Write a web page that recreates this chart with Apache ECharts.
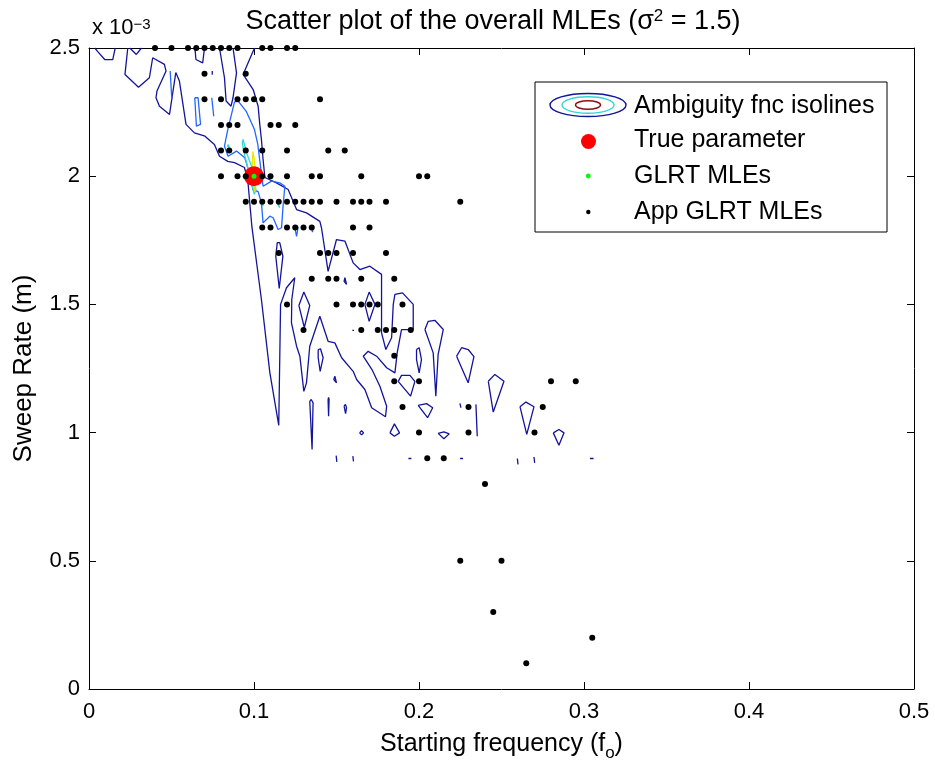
<!DOCTYPE html>
<html><head><meta charset="utf-8">
<script src="https://cdn.jsdelivr.net/npm/echarts@6/dist/echarts.min.js"></script>
<style>html,body{margin:0;padding:0;background:#fff}#c{width:935px;height:767px}</style>
</head><body><div id="c"></div>
<script>
// ---------- data (f = starting frequency, m = sweep rate in units of 1e-3) ----------
const xTickValues = [0, 0.1, 0.2, 0.3, 0.4, 0.5];
const yTickValues = [0, 0.5, 1, 1.5, 2, 2.5];

const trueParameter = [[0.1, 2.0]];
const glrtMLEs = [[0.1, 2.0]];

// App GLRT MLEs, one row per sweep-rate value: [m, [f values]]
const appGlrtRows = [
  [2.5, [0.04,0.05,0.06,0.065,0.07,0.075,0.08,0.085,0.09,0.105,0.11,0.12,0.125]],
  [2.4, [0.07,0.095]],
  [2.3, [0.07,0.08,0.09,0.095,0.1,0.105,0.14]],
  [2.2, [0.08,0.085,0.09,0.11,0.115,0.125]],
  [2.1, [0.08,0.085,0.095,0.105,0.12,0.145,0.155]],
  [2.0, [0.08,0.09,0.095,0.105,0.11,0.12,0.135,0.14,0.165,0.2,0.205]],
  [1.9, [0.095,0.1,0.105,0.11,0.115,0.12,0.125,0.13,0.135,0.14,0.15,0.16,0.165,0.17,0.18,0.225]],
  [1.8, [0.105,0.11,0.12,0.125,0.13,0.135,0.16,0.17]],
  [1.7, [0.115,0.14,0.145,0.15,0.16,0.18]],
  [1.6, [0.135,0.145,0.15,0.165,0.185]],
  [1.5, [0.12,0.15,0.16,0.165,0.17,0.175,0.19]],
  [1.4, [0.13,0.165,0.175,0.18,0.185,0.195]],
  [1.3, [0.185]],
  [1.2, [0.185,0.2,0.28,0.295]],
  [1.1, [0.19,0.23,0.275]],
  [1.0, [0.2,0.23,0.27]],
  [0.9, [0.205,0.215]],
  [0.8, [0.24]],
  [0.5, [0.225,0.25]],
  [0.3, [0.245]],
  [0.2, [0.305]],
  [0.1, [0.265]]
];

// Ambiguity function isolines, lowest level
const darkIsolines = [
  [[0.0035,2.5],[0.0053,2.486],[0.0095,2.455],[0.0144,2.455],[0.0159,2.5]],
  [[0.0247,2.5],[0.0287,2.475],[0.0318,2.5]],
  [[0.0642,2.5],[0.0648,2.455],[0.0689,2.442],[0.070,2.5]],
  [[0.0791,2.5],[0.0821,2.384],[0.0831,2.293],[0.0861,2.273],[0.0873,2.307],[0.0894,2.403],[0.0873,2.5]],
  [[0.0747,2.41],[0.0756,2.403],[0.0747,2.396],[0.0741,2.403],[0.0747,2.41]],
  [[0.0235,2.5],[0.0218,2.397],[0.030,2.347],[0.0366,2.384],[0.0386,2.462],[0.0457,2.436],[0.0467,2.41],[0.0412,2.332],[0.0406,2.306],[0.0427,2.273],[0.0488,2.241],[0.0526,2.404],[0.0548,2.371],[0.0588,2.202],[0.0639,2.169],[0.0703,2.156],[0.076,2.124],[0.0791,2.078],[0.0841,2.058],[0.0882,2.053],[0.0942,2.034],[0.0962,1.987],[0.0987,1.804],[0.1045,1.519],[0.1096,1.234],[0.115,1.028],[0.1161,1.5],[0.1197,1.565],[0.1247,1.604],[0.1229,1.519],[0.1227,1.428],[0.1258,1.337],[0.1278,1.298],[0.1302,1.161],[0.1318,1.194],[0.1338,1.337],[0.1399,1.454],[0.1449,1.356],[0.149,1.35],[0.1531,1.292],[0.1601,1.239],[0.1622,1.207],[0.1672,1.168],[0.1713,1.097],[0.1797,1.062],[0.1804,1.103],[0.1763,1.181],[0.1715,1.246],[0.1662,1.298],[0.1692,1.317],[0.1743,1.298],[0.1804,1.253],[0.1854,1.233],[0.1868,1.312],[0.1894,1.402],[0.1965,1.402],[0.1965,1.5],[0.19,1.545],[0.1854,1.539],[0.1844,1.5],[0.1834,1.37],[0.1799,1.324],[0.1773,1.389],[0.1773,1.617],[0.1702,1.649],[0.1642,1.636],[0.1601,1.662],[0.1551,1.747],[0.15,1.753],[0.1449,1.629],[0.1409,1.799],[0.1399,1.824],[0.1318,1.857],[0.1258,1.87],[0.1207,1.948],[0.1136,1.974],[0.1066,1.995],[0.1055,2.065],[0.1045,2.143],[0.1035,2.202],[0.1025,2.273],[0.0995,2.338],[0.0934,2.397],[0.0995,2.488],[0.1005,2.5]],
  [[0.1272,1.496],[0.1302,1.548],[0.1338,1.496],[0.1305,1.41],[0.1272,1.496]],
  [[0.1132,1.688],[0.1141,1.741],[0.1156,1.741],[0.1175,1.688],[0.1153,1.562],[0.1132,1.688]],
  [[0.1672,1.5],[0.1698,1.548],[0.1733,1.5],[0.1698,1.434],[0.1672,1.5]],
  [[0.1389,1.324],[0.1403,1.327],[0.1419,1.292],[0.1401,1.239],[0.1389,1.292],[0.1389,1.324]],
  [[0.149,1.22],[0.15,1.194],[0.149,1.188],[0.1484,1.207],[0.149,1.22]],
  [[0.1338,1.122],[0.1352,0.934],[0.1358,1.116],[0.1347,1.129],[0.1338,1.122]],
  [[0.1449,1.129],[0.1452,1.064],[0.1455,1.129],[0.1452,1.137],[0.1449,1.129]],
  [[0.1546,1.103],[0.1555,1.074],[0.1561,1.097],[0.1554,1.11],[0.1546,1.103]],
  [[0.164,0.999],[0.1652,1.007],[0.1664,0.999],[0.1652,0.991],[0.164,0.999]],
  [[0.1498,0.91],[0.1502,0.91],[0.1502,0.886],[0.1498,0.886],[0.1498,0.91]],
  [[0.1599,0.908],[0.1603,0.908],[0.1603,0.888],[0.1599,0.888],[0.1599,0.908]],
  [[0.2036,1.402],[0.2056,1.434],[0.2096,1.438],[0.2147,1.402],[0.2116,1.305],[0.2102,1.142],[0.2086,1.311],[0.2036,1.402]],
  [[0.2228,1.298],[0.2258,1.331],[0.2298,1.324],[0.2333,1.296],[0.2298,1.194],[0.2258,1.253],[0.2228,1.298]],
  [[0.242,1.2],[0.246,1.227],[0.2515,1.2],[0.245,1.08],[0.242,1.2]],
  [[0.2612,1.101],[0.2648,1.119],[0.2697,1.101],[0.2653,0.993],[0.2612,1.101]],
  [[0.2814,0.999],[0.2848,1.012],[0.2879,0.999],[0.2848,0.951],[0.2814,0.999]],
  [[0.1995,1.106],[0.2046,1.113],[0.2083,1.097],[0.2052,1.058],[0.1995,1.106]],
  [[0.1824,0.999],[0.1851,1.034],[0.1882,0.999],[0.1851,0.986],[0.1824,0.999]],
  [[0.2116,0.997],[0.2151,1.003],[0.2183,0.995],[0.2151,0.976],[0.2116,0.997]],
  [[0.2345,1.11],[0.2353,1.11],[0.2353,0.986],[0.2345,0.986],[0.2345,1.11]],
  [[0.2248,1.114],[0.2254,1.114],[0.2254,1.097],[0.2248,1.097],[0.2248,1.114]],
  [[0.1874,1.2],[0.1894,1.223],[0.1945,1.223],[0.1975,1.2],[0.1949,1.142],[0.1874,1.2]],
  [[0.1985,1.324],[0.2001,1.331],[0.2015,1.285],[0.2001,1.233],[0.1985,1.285],[0.1985,1.324]],
  [[0.1551,1.604],[0.1561,1.578],[0.1551,1.574],[0.1546,1.59],[0.1551,1.604]],
  [[0.1596,1.399],[0.1601,1.404],[0.1606,1.399],[0.1601,1.394],[0.1596,1.399]],
  [[0.1936,0.899],[0.1945,0.905],[0.1954,0.899],[0.1945,0.893],[0.1936,0.899]],
  [[0.2249,0.899],[0.2258,0.905],[0.2267,0.899],[0.2258,0.893],[0.2249,0.899]],
  [[0.3036,0.899],[0.3047,0.904],[0.3058,0.899],[0.3047,0.894],[0.3036,0.899]],
  [[0.2596,0.899],[0.26,0.899],[0.26,0.876],[0.2596,0.876],[0.2596,0.899]],
  [[0.2697,0.905],[0.2701,0.905],[0.2701,0.882],[0.2697,0.882],[0.2697,0.905]]
];
// second level
const lightIsolines = [
  [[0.0492,2.41],[0.0502,2.404],[0.0502,2.3],[0.0495,2.293],[0.0491,2.304],[0.0492,2.41]],
  [[0.0641,2.306],[0.0661,2.306],[0.0676,2.202],[0.0651,2.195],[0.0641,2.306]],
  [[0.0744,2.306],[0.0756,2.3],[0.0756,2.234],[0.0747,2.241],[0.0744,2.306]],
  [[0.0904,2.293],[0.0952,2.254],[0.1003,2.182],[0.1023,2.124],[0.1043,2.02],[0.1055,1.961],[0.1106,1.981],[0.1156,1.974],[0.1187,1.961],[0.1176,1.883],[0.1167,1.799],[0.1146,1.792],[0.1116,1.838],[0.1096,1.844],[0.1055,1.818],[0.1045,1.896],[0.1025,1.94],[0.0993,1.948],[0.0975,2.007],[0.0944,2.072],[0.0894,2.098],[0.0843,2.078],[0.0821,2.117],[0.0841,2.182],[0.0882,2.29],[0.0904,2.293]],
  [[0.1247,1.8],[0.1258,1.765],[0.1267,1.8],[0.1258,1.808],[0.1247,1.8]],
  [[0.1351,1.798],[0.1354,1.782],[0.1357,1.798],[0.1351,1.798]]
];
// third level
const cyanIsolines = [
  [[0.0934,2.143],[0.0955,2.091],[0.0985,2.039],[0.1005,1.987],[0.1011,1.948],[0.1002,1.929],[0.0987,1.968],[0.0965,2.027],[0.0938,2.096],[0.0929,2.131],[0.0934,2.143]],
  [[0.0843,2.124],[0.0853,2.107],[0.0847,2.101],[0.0840,2.117],[0.0843,2.124]],
  [[0.1045,1.902],[0.1055,1.883],[0.1050,1.879],[0.1042,1.897],[0.1045,1.902]],
  [[0.1146,1.896],[0.1156,1.877],[0.1151,1.873],[0.1143,1.891],[0.1146,1.896]]
];
// fourth level
const yellowIsolines = [
  [[0.0993,2.096],[0.1002,2.065],[0.1011,1.995],[0.1005,1.94],[0.0996,1.964],[0.099,2.046],[0.0993,2.096]]
];

const legendLabels = ['Ambiguity fnc isolines', 'True parameter', 'GLRT MLEs', 'App GLRT MLEs'];

// ---------- chart ----------
const FONT = '"Liberation Sans", Arial, Helvetica, sans-serif';
const C_DARK = '#14149a', C_LIGHT = '#2266ff', C_CYAN = '#33d6d6', C_YEL = '#e6e600', C_RED = '#8b1010';

const appPoints = [];
appGlrtRows.forEach(([m, fs]) => fs.forEach(f => appPoints.push([f, m])));

function isoSeries(lines, color, z) {
  return lines.map(pts => ({
    type: 'line', data: pts, symbol: 'none', showSymbol: false, silent: true,
    lineStyle: { color: color, width: 1.3 }, z: z, animation: false, clip: true
  }));
}

const chart = echarts.init(document.getElementById('c'));

const axisLineStyle = { show: true, onZero: false, lineStyle: { color: '#000', width: 1 } };
const tickStyle = { show: true, inside: true, length: 7, lineStyle: { color: '#000', width: 1 } };

const option = {
  animation: false,
  backgroundColor: '#fff',
  title: {
    text: 'Scatter plot of the overall MLEs (σ{sup|2} = 1.5)',
    left: 488, top: 3, textAlign: 'center',
    textStyle: { fontFamily: FONT, fontSize: 27, fontWeight: 'normal', color: '#000',
      rich: { sup: { fontFamily: FONT, fontSize: 17, verticalAlign: 'top', color: '#000' } } }
  },
  grid: { left: 89, right: 21, top: 48, bottom: 77 },
  xAxis: [
    { type: 'value', min: xTickValues[0], max: xTickValues[xTickValues.length - 1], interval: 0.1,
      name: 'Starting frequency (f{sub|o})', nameLocation: 'middle', nameGap: 38,
      nameTextStyle: { fontFamily: FONT, fontSize: 25, color: '#000',
        rich: { sub: { fontFamily: FONT, fontSize: 17, verticalAlign: 'bottom', padding: [18, 0, 0, 0], color: '#000' } } },
      axisLine: axisLineStyle, axisTick: tickStyle,
      axisLabel: { color: '#000', fontFamily: FONT, fontSize: 22, margin: 12 },
      splitLine: { show: false } },
    { type: 'value', position: 'top', min: 0, max: 0.5, interval: 0.1,
      axisLine: axisLineStyle, axisTick: tickStyle, axisLabel: { show: false }, splitLine: { show: false } }
  ],
  yAxis: [
    { type: 'value', min: yTickValues[0], max: yTickValues[yTickValues.length - 1], interval: 0.5,
      name: 'Sweep Rate (m)', nameLocation: 'middle', nameGap: 52, nameRotate: 90,
      nameTextStyle: { fontFamily: FONT, fontSize: 26, color: '#000' },
      axisLine: axisLineStyle, axisTick: tickStyle,
      axisLabel: { color: '#000', fontFamily: FONT, fontSize: 22, margin: 9 },
      splitLine: { show: false } },
    { type: 'value', position: 'right', min: 0, max: 2.5, interval: 0.5,
      axisLine: axisLineStyle, axisTick: tickStyle, axisLabel: { show: false }, splitLine: { show: false } }
  ],
  graphic: [
    { type: 'text', left: 92, top: 17, z: 100,
      style: { text: 'x 10{sup|−3}', font: '22px ' + FONT, fill: '#000',
        rich: { sup: { fontFamily: FONT, fontSize: 15, verticalAlign: 'top', fill: '#000' } } } },
    { type: 'rect', z: 100, shape: { x: 535, y: 82, width: 352, height: 150 },
      style: { fill: '#fff', stroke: '#000', lineWidth: 1 } },
    { type: 'ellipse', z: 101, shape: { cx: 588, cy: 105, rx: 38, ry: 11.5 }, style: { fill: 'none', stroke: C_DARK, lineWidth: 1.4 } },
    { type: 'ellipse', z: 101, shape: { cx: 588, cy: 105, rx: 26, ry: 8.2 }, style: { fill: 'none', stroke: C_CYAN, lineWidth: 1.4 } },
    { type: 'ellipse', z: 101, shape: { cx: 588, cy: 105, rx: 12.5, ry: 4.2 }, style: { fill: 'none', stroke: C_RED, lineWidth: 1.4 } },
    { type: 'circle', z: 101, shape: { cx: 588.5, cy: 141.5, r: 7.5 }, style: { fill: '#ff0000' } },
    { type: 'circle', z: 101, shape: { cx: 588.3, cy: 176, r: 2.4 }, style: { fill: '#00ff00' } },
    { type: 'circle', z: 101, shape: { cx: 588.3, cy: 212, r: 2.2 }, style: { fill: '#000' } },
    ...legendLabels.map((t, i) => ({ type: 'text', z: 101, x: 634, y: [106.5, 140.5, 176.5, 212][i],
      style: { text: t, font: '25px ' + FONT, fill: '#000', textVerticalAlign: 'middle', verticalAlign: 'middle' } }))
  ],
  series: [
    ...isoSeries(darkIsolines, C_DARK, 2),
    ...isoSeries(lightIsolines, C_LIGHT, 3),
    ...isoSeries(cyanIsolines, C_CYAN, 4),
    ...isoSeries(yellowIsolines, C_YEL, 5),
    { name: legendLabels[1], type: 'scatter', data: trueParameter, symbol: 'circle', symbolSize: 20,
      itemStyle: { color: '#ff0000', opacity: 1 }, z: 10, clip: false, silent: true },
    { name: legendLabels[2], type: 'scatter', data: glrtMLEs, symbol: 'circle', symbolSize: 5,
      itemStyle: { color: '#00ff00', opacity: 1 }, z: 11, clip: false, silent: true },
    { name: legendLabels[3], type: 'scatter', data: appPoints, symbol: 'circle', symbolSize: 6,
      itemStyle: { color: '#000', opacity: 1 }, z: 12, clip: false, silent: true }
  ]
};
chart.setOption(option);
</script>
</body></html>
